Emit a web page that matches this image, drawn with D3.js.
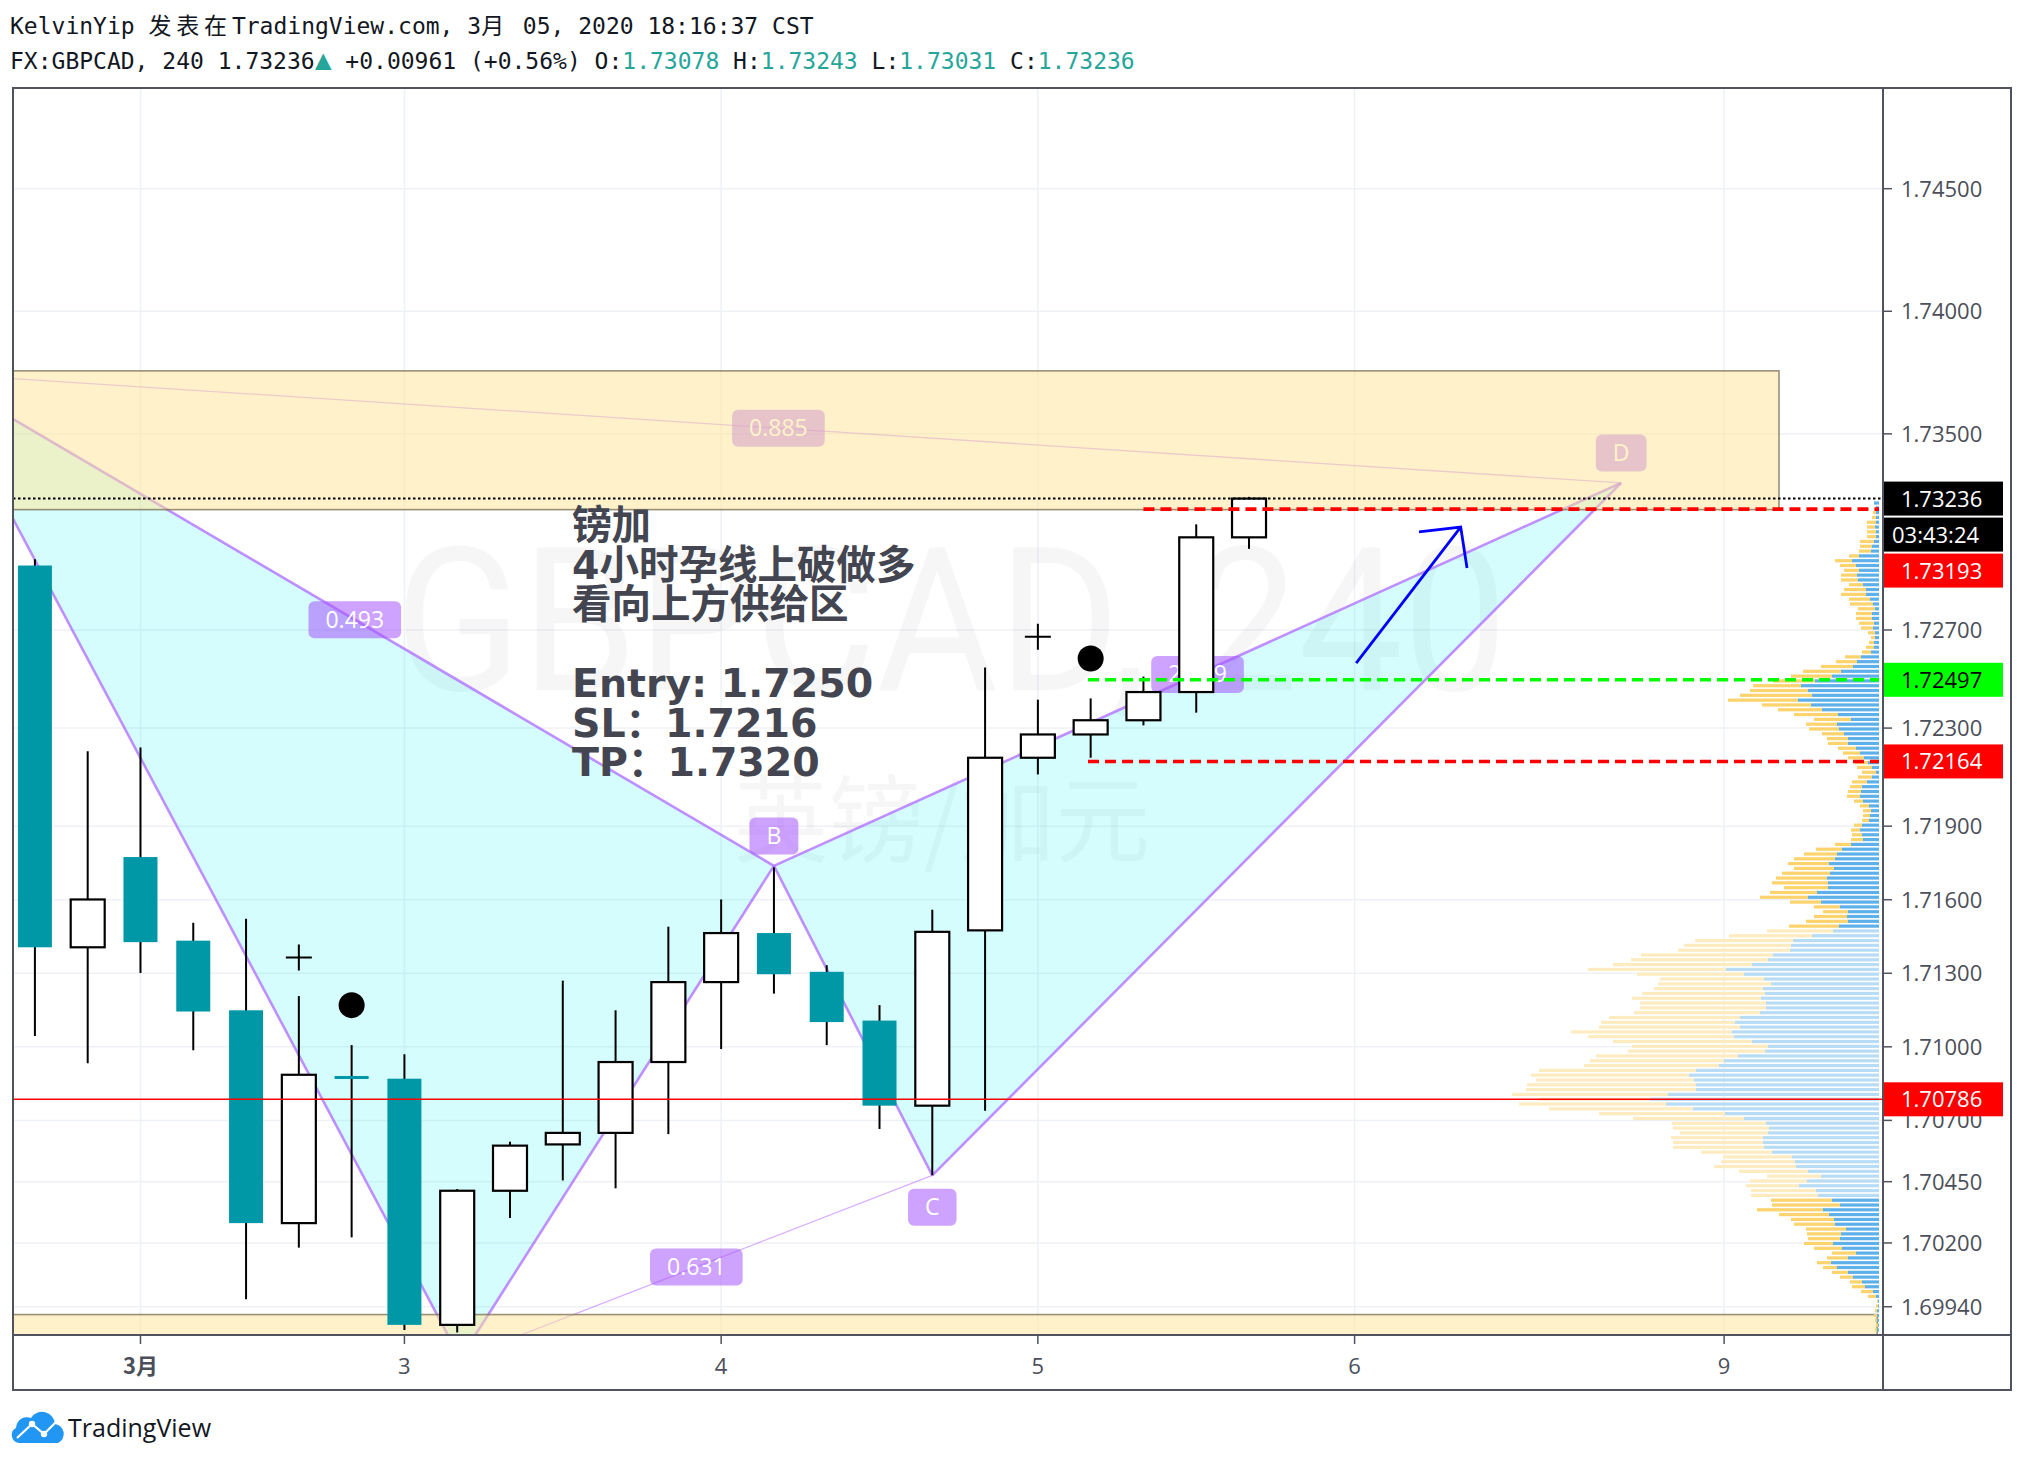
<!DOCTYPE html>
<html>
<head>
<meta charset="UTF-8">
<title>FX:GBPCAD 240</title>
<script src="https://d3js.org/d3.v7.min.js"></script>
<style>
  body { margin: 0; background: #fff; }
  svg { display: block; }
</style>
</head>
<body>
<svg id="chart"></svg>
<script>
// ---- data ----
// 4h candles, bar index 0 = first bar shown
const opens  = [1.72963,1.71406,1.71774,1.71433,1.71149,1.70281,1.70881,1.70870,1.69866,1.70413,1.70602,1.70649,1.70938,1.71264,1.71464,1.71306,1.71107,1.70760,1.71475,1.72179,1.72274,1.72332,1.72447,1.73078];
const highs  = [1.72989,1.72206,1.72221,1.71506,1.71522,1.71207,1.71007,1.70970,1.70420,1.70613,1.71270,1.71149,1.71490,1.71601,1.71732,1.71333,1.71170,1.71559,1.72547,1.72416,1.72421,1.72510,1.73131,1.73243];
const lows   = [1.71044,1.70933,1.71301,1.70986,1.69971,1.70181,1.70223,1.69845,1.69835,1.70302,1.70455,1.70423,1.70644,1.70991,1.71217,1.71007,1.70665,1.70476,1.70739,1.72111,1.72179,1.72311,1.72363,1.73031];
const closes = [1.71406,1.71601,1.71427,1.71144,1.70281,1.70886,1.70870,1.69866,1.70413,1.70597,1.70649,1.70938,1.71264,1.71464,1.71296,1.71101,1.70760,1.71469,1.72179,1.72274,1.72332,1.72447,1.73078,1.73236];

const timeTickIdx  = [2, 7, 13, 19, 25, 32];
const timeTickText = ["3月", "3", "4", "5", "6", "9"];
const priceTicks = [1.745, 1.74, 1.735, 1.727, 1.723, 1.719, 1.716, 1.713, 1.71, 1.707, 1.7045, 1.702, 1.6994];

// XABCD pattern points (bar index, price); X and A lie outside the visible area
const patNames = ["X", "A", "B", "C", "D"];
const patIdx   = [-1.88, 8.06, 14.0, 17.0, 30.05];
const patPrice = [1.73746, 1.69729, 1.71738, 1.70476, 1.73300];
const ratioText = {XB: "0.493", AC: "0.631", BD: "2.259", XD: "0.885"};

// zones [idx from, idx to, price low, price high]
const supplyZone = [-2, 33.04, 1.73191, 1.73757];
const demandZone = [-2, 34.9, 1.69750, 1.69908];

// horizontal levels
const levelPrice = [1.73193, 1.72497, 1.72164];
const levelFrom  = [21, 19.95, 19.95];
const levelColor = ["#ff0000", "#00ff00", "#ff0000"];
const lastPrice = 1.73236;
const markLine = 1.70786;

// markers
const plusIdx = [5, 19], plusPrice = [1.71364, 1.72673];
const dotIdx = [6, 20], dotPrice = [1.71170, 1.72584];
// hand drawn arrow
const arrowIdx   = [25.03, 27.01, 26.22, 27.01, 27.13];
const arrowPrice = [1.72565, 1.73120, 1.73100, 1.73120, 1.72953];

const noteLines = ["镑加", "4小时孕线上破做多", "看向上方供给区", "", "Entry: 1.7250", "SL：1.7216", "TP：1.7320"];

// visible range volume profile, rows from top (1.73218) to bottom (1.69845)
const profileTop = 1.73218, profileBottom = 1.69845;
const vaHigh = 1.71483, vaLow = 1.70385;
const profileTotal = [5,3,6,7,12,12,12,12,19,19,20,30,44,39,35,38,38,30,35,38,30,29,21,23,23,20,18,11,8,10,13,17,34,43,58,76,88,106,126,129,139,151,117,101,85,65,73,70,57,52,51,41,36,31,24,22,17,21,
  27,29,31,32,25,19,16,16,17,25,28,27,28,44,63,75,85,91,85,97,103,107,95,109,119,89,65,56,65,73,90,
  112,150,184,195,201,238,248,266,291,242,219,221,225,237,247,239,239,245,270,278,280,308,291,266,247,251,283,289,295,
  340,348,343,352,353,367,340,360,330,280,246,207,206,199,208,206,206,178,156,158,165,140,112,129,133,128,128,
  108,107,122,100,88,85,73,72,71,75,65,47,52,62,56,47,39,29,27,18,11,2,3,4,5,4,3,4];
const profileUp = [5,3,3,3,3,4,3,3,5,7,8,20,27,23,20,22,21,16,13,13,9,6,4,7,7,5,6,4,4,5,5,8,18,22,26,38,47,64,78,71,67,81,68,57,41,28,42,40,35,31,31,23,19,15,11,7,3,7,
  12,17,18,19,16,10,8,9,10,17,19,17,16,28,37,42,44,50,45,49,52,51,51,62,71,58,39,31,32,31,40,
  46,67,86,88,89,106,111,127,153,135,115,108,116,114,118,113,113,119,139,144,139,147,145,127,111,114,141,155,160,
  183,190,185,183,183,211,229,213,186,154,135,113,110,111,116,116,115,107,87,84,83,71,58,72,80,63,61,
  47,39,56,50,45,44,33,38,39,46,37,23,31,48,42,31,26,17,14,6,3,1,1,2,2,2,1,2];

// ---- drawing ----
const W = 2024, H = 1464;
const plot = {left: 13, top: 88, right: 1883, bottom: 1335};
const frame = {right: 2011, bottom: 1390};
const teal = "#0097a7", axisCol = "#50535e", textCol = "#4c4f59";

const svg = d3.select("#chart").attr("width", W).attr("height", H)
  .style("font-family", "'Open Sans', 'Noto Sans', sans-serif");
svg.append("rect").attr("width", W).attr("height", H).attr("fill", "#fff");

const x = d3.scaleLinear().domain([-0.415, 35.01]).range([plot.left, plot.right]);
const y = d3.scaleLinear().domain([1.698247, 1.749106]).range([plot.bottom, plot.top]);

svg.append("clipPath").attr("id", "clip").append("rect")
  .attr("x", plot.left).attr("y", plot.top)
  .attr("width", plot.right - plot.left).attr("height", plot.bottom - plot.top);
const g = svg.append("g").attr("clip-path", "url(#clip)");

// grid
g.selectAll(".hgrid").data(priceTicks).join("line")
  .attr("x1", plot.left).attr("x2", plot.right)
  .attr("y1", d => y(d)).attr("y2", d => y(d))
  .attr("stroke", "#eef1f6").attr("stroke-width", 1.5);
g.selectAll(".vgrid").data(timeTickIdx).join("line")
  .attr("x1", d => x(d)).attr("x2", d => x(d))
  .attr("y1", plot.top).attr("y2", plot.bottom)
  .attr("stroke", "#eef1f6").attr("stroke-width", 1.5);

// watermark
g.append("text").attr("x", 951).attr("y", 690).attr("text-anchor", "middle")
  .attr("font-family", "Roboto, sans-serif").attr("font-size", 200)
  .attr("textLength", 1113).attr("lengthAdjust", "spacingAndGlyphs")
  .attr("fill", "rgba(0,0,0,0.035)").text("GBPCAD, 240");
g.append("text").attr("x", 942).attr("y", 855).attr("text-anchor", "middle")
  .attr("font-family", "'Noto Sans CJK SC', sans-serif").attr("font-size", 95)
  .attr("fill", "rgba(0,0,0,0.035)").text("英镑/加元");

// pattern
const P = patIdx.map((d, i) => [x(d), y(patPrice[i])]);
const tri = [[0, 1, 2], [2, 3, 4]];
g.selectAll(".patfill").data(tri).join("path")
  .attr("d", t => d3.line()(t.map(k => P[k])) + "Z")
  .attr("fill", "rgba(0,240,240,0.16)");
const thick = [[0, 1], [1, 2], [2, 3], [3, 4], [0, 2], [2, 4]];
const thin = [[1, 3], [0, 4]];
g.selectAll(".patthin").data(thin).join("line")
  .attr("x1", s => P[s[0]][0]).attr("y1", s => P[s[0]][1])
  .attr("x2", s => P[s[1]][0]).attr("y2", s => P[s[1]][1])
  .attr("stroke", "rgba(185,110,255,0.55)").attr("stroke-width", 1.3);
g.selectAll(".patthick").data(thick).join("line")
  .attr("x1", s => P[s[0]][0]).attr("y1", s => P[s[0]][1])
  .attr("x2", s => P[s[1]][0]).attr("y2", s => P[s[1]][1])
  .attr("stroke", "rgba(175,105,255,0.75)").attr("stroke-width", 2.6);

function tag(parent, cx, cy, txt) {
  const t = parent.append("g");
  const label = t.append("text").attr("x", cx).attr("y", cy + 8)
    .attr("text-anchor", "middle").attr("font-size", 23).attr("fill", "#fff").text(txt);
  const w = label.node().getComputedTextLength() + 34;
  t.insert("rect", "text").attr("x", cx - w / 2).attr("y", cy - 18.5)
    .attr("width", w).attr("height", 37).attr("rx", 6)
    .attr("fill", "rgba(165,85,255,0.55)");
}
const key = {X: 0, A: 1, B: 2, C: 3, D: 4};
Object.keys(ratioText).forEach(k => {
  const a = P[key[k[0]]], b = P[key[k[1]]];
  tag(g, (a[0] + b[0]) / 2, (a[1] + b[1]) / 2, ratioText[k]);
});
// point tags: only those inside the view (X and A fall outside it)
patNames.forEach((n, i) => {
  if (n === "X" || n === "A") return;
  const up = (n === "B" || n === "D");
  tag(g, P[i][0], P[i][1] + (up ? -30 : 32), n);
});

// zones
[supplyZone, demandZone].forEach(z => {
  g.append("rect")
    .attr("x", x(z[0])).attr("y", y(z[3]))
    .attr("width", x(z[1]) - x(z[0])).attr("height", y(z[2]) - y(z[3]))
    .attr("fill", "rgba(255,230,150,0.5)")
    .attr("stroke", "rgba(120,110,80,0.75)").attr("stroke-width", 1.6);
});

// volume profile
const rowPrice = d3.scaleLinear().domain([0, profileTotal.length - 1]).range([profileTop, profileBottom]);
const vol = d3.scaleLinear().domain([0, d3.max(profileTotal)]).range([0, 367]);
const pRight = 1879;
const rows = profileTotal.map((t, i) => ({p: rowPrice(i), t: t, u: profileUp[i]}));
const inVA = d => d.p <= vaHigh && d.p >= vaLow;
const pg = g.append("g");
pg.selectAll(".down").data(rows).join("rect")
  .attr("x", d => pRight - vol(d.t)).attr("y", d => y(d.p) - 1.6)
  .attr("width", d => vol(d.t) - vol(d.u)).attr("height", 3.2)
  .attr("fill", d => inVA(d) ? "#feecc0" : "#fcd36c");
pg.selectAll(".up").data(rows).join("rect")
  .attr("x", d => pRight - vol(d.u)).attr("y", d => y(d.p) - 1.6)
  .attr("width", d => vol(d.u)).attr("height", 3.2)
  .attr("fill", d => inVA(d) ? "#b8dcf5" : "#5db0ea");

// candles
const bw = 34;
const candles = opens.map((o, i) => ({i, o, h: highs[i], l: lows[i], c: closes[i]}));
const cg = g.append("g");
cg.selectAll(".wick").data(candles).join("line")
  .attr("x1", d => x(d.i)).attr("x2", d => x(d.i))
  .attr("y1", d => y(d.h)).attr("y2", d => y(d.l))
  .attr("stroke", "#000").attr("stroke-width", 2);
cg.selectAll(".body").data(candles).join("rect")
  .attr("x", d => x(d.i) - bw / 2)
  .attr("y", d => y(Math.max(d.o, d.c)))
  .attr("width", bw)
  .attr("height", d => Math.max(3, Math.abs(y(d.o) - y(d.c))))
  .attr("fill", d => d.c >= d.o ? "#fff" : teal)
  .attr("stroke", d => d.c >= d.o ? "#000" : "none")
  .attr("stroke-width", 2.2);

// levels
g.append("line").attr("x1", plot.left).attr("x2", plot.right)
  .attr("y1", y(markLine)).attr("y2", y(markLine))
  .attr("stroke", "#ff0000").attr("stroke-width", 1.6);
g.append("line").attr("x1", plot.left).attr("x2", plot.right)
  .attr("y1", y(lastPrice)).attr("y2", y(lastPrice))
  .attr("stroke", "#000").attr("stroke-width", 2).attr("stroke-dasharray", "2.5,2.5");
g.selectAll(".lvl").data(levelPrice).join("line")
  .attr("x1", (d, i) => x(levelFrom[i])).attr("x2", plot.right - 4)
  .attr("y1", d => y(d)).attr("y2", d => y(d))
  .attr("stroke", (d, i) => levelColor[i]).attr("stroke-width", 3.6)
  .attr("stroke-dasharray", "11,6");

// markers
plusIdx.forEach((d, i) => {
  const cx = x(d), cy = y(plusPrice[i]);
  g.append("path").attr("d", `M${cx - 13},${cy}H${cx + 13}M${cx},${cy - 13}V${cy + 13}`)
    .attr("stroke", "#000").attr("stroke-width", 2);
});
g.selectAll(".dot").data(dotIdx).join("circle")
  .attr("cx", d => x(d)).attr("cy", (d, i) => y(dotPrice[i])).attr("r", 13).attr("fill", "#000");

// arrow
const A = arrowIdx.map((d, i) => [x(d), y(arrowPrice[i])]);
g.append("path").attr("d", d3.line()([A[0], A[1]]) + "M" + A[2] + "L" + A[3] + "L" + A[4])
  .attr("fill", "none").attr("stroke", "#0000ff").attr("stroke-width", 2.8);

// note text
const note = g.append("text").attr("font-family", "'DejaVu Sans', 'Noto Sans CJK SC', sans-serif")
  .attr("font-weight", "bold").attr("font-size", 39.5).attr("fill", "#434651");
noteLines.forEach((t, i) => {
  note.append("tspan").attr("x", 572).attr("y", 539 + i * 39.5).text(t);
});

// price axis
const ax = svg.append("g");
ax.selectAll(".ptick").data(priceTicks).join("line")
  .attr("x1", plot.right).attr("x2", plot.right + 9)
  .attr("y1", d => y(d)).attr("y2", d => y(d))
  .attr("stroke", axisCol).attr("stroke-width", 1.5);
ax.selectAll(".plab").data(priceTicks).join("text")
  .attr("x", 1901).attr("y", d => y(d) + 8)
  .attr("font-size", 22).attr("fill", textCol)
  .text(d => d.toFixed(5));

// price labels on the scale, stacked when they overlap
const tags = [
  {y: y(lastPrice), text: lastPrice.toFixed(5), bg: "#000", fg: "#fff"},
  {y: null, text: "03:43:24", bg: "#000", fg: "#fff"},
  {y: y(levelPrice[0]), text: levelPrice[0].toFixed(5), bg: "#ff0000", fg: "#fff"},
  {y: y(levelPrice[1]), text: levelPrice[1].toFixed(5), bg: "#00ff00", fg: "#000"},
  {y: y(levelPrice[2]), text: levelPrice[2].toFixed(5), bg: "#ff0000", fg: "#fff"},
  {y: y(markLine), text: markLine.toFixed(5), bg: "#ff0000", fg: "#fff"}
];
const th = 34;
let prev = -Infinity;
tags.forEach(t => {
  let cy = t.y === null ? prev + th + 2 : t.y;
  if (cy < prev + th + 2) cy = prev + th + 2;
  t.cy = cy; prev = cy;
});
const tg = ax.selectAll(".tag").data(tags).join("g");
tg.append("rect").attr("x", plot.right + 1).attr("y", d => d.cy - th / 2)
  .attr("width", 119).attr("height", th).attr("fill", d => d.bg);
tg.append("text").attr("x", d => d.text.includes(":") ? 1892 : 1901).attr("y", d => d.cy + 8)
  .attr("font-size", 22).attr("fill", d => d.fg).text(d => d.text);

// time axis
ax.selectAll(".ttick").data(timeTickIdx).join("line")
  .attr("x1", d => x(d)).attr("x2", d => x(d))
  .attr("y1", plot.bottom).attr("y2", plot.bottom + 9)
  .attr("stroke", axisCol).attr("stroke-width", 1.5);
ax.selectAll(".tlab").data(timeTickIdx).join("text")
  .attr("x", d => x(d)).attr("y", 1374).attr("text-anchor", "middle")
  .attr("font-size", 22).attr("fill", textCol)
  .attr("font-weight", (d, i) => i === 0 ? "bold" : "normal")
  .attr("font-family", (d, i) => i === 0 ? "'Noto Sans CJK SC', sans-serif" : null)
  .text((d, i) => timeTickText[i]);

// frame
svg.append("rect").attr("x", plot.left).attr("y", plot.top)
  .attr("width", frame.right - plot.left).attr("height", frame.bottom - plot.top)
  .attr("fill", "none").attr("stroke", axisCol).attr("stroke-width", 2);
svg.append("line").attr("x1", plot.right).attr("x2", plot.right)
  .attr("y1", plot.top).attr("y2", frame.bottom).attr("stroke", axisCol).attr("stroke-width", 2);
svg.append("line").attr("x1", plot.left).attr("x2", frame.right)
  .attr("y1", plot.bottom).attr("y2", plot.bottom).attr("stroke", axisCol).attr("stroke-width", 2);

// header
const hdr = svg.append("g").attr("font-family", "'DejaVu Sans Mono', 'Noto Sans CJK SC', monospace")
  .attr("font-size", 23).attr("fill", "#131722");
const l1 = hdr.append("text").attr("x", 10).attr("y", 34);
[["KelvinYip ", 0], ["发表在", 4.8], ["TradingView.com, 3", 0], ["月", 4.8], [" 05, 2020 18:16:37 CST", 0]]
  .forEach(s => l1.append("tspan").attr("letter-spacing", s[1] || null).text(s[0]));
const l2 = hdr.append("text").attr("x", 10).attr("y", 69);
const green = "#26a69a";
[["FX:GBPCAD, 240 1.73236", null, null], ["▲", green, 28], [" +0.00961 (+0.56%) O:", null, null], ["1.73078", green, null],
 [" H:", null, null], ["1.73243", green, null], [" L:", null, null], ["1.73031", green, null], [" C:", null, null], ["1.73236", green, null]]
  .forEach(s => l2.append("tspan").attr("fill", s[1]).attr("font-size", s[2]).text(s[0]));

// footer logo
const logo = svg.append("g");
logo.append("path")
  .attr("d", "M19,1443 A8,8 0 0 1 16,1428 A11,11 0 0 1 31,1418 A13,13 0 0 1 55,1424 A10,10 0 0 1 58,1443 Z")
  .attr("fill", "#2196f3");
logo.append("polyline").attr("points", "17,1438 32,1424 44,1434 56,1422")
  .attr("fill", "none").attr("stroke", "#fff").attr("stroke-width", 2.2);
logo.selectAll("circle").data([[32, 1424], [44, 1434]]).join("circle")
  .attr("cx", d => d[0]).attr("cy", d => d[1]).attr("r", 3.2).attr("fill", "#fff");
svg.append("text").attr("x", 68).attr("y", 1437).attr("font-size", 25)
  .attr("fill", "#131722").text("TradingView");
</script>
</body>
</html>
